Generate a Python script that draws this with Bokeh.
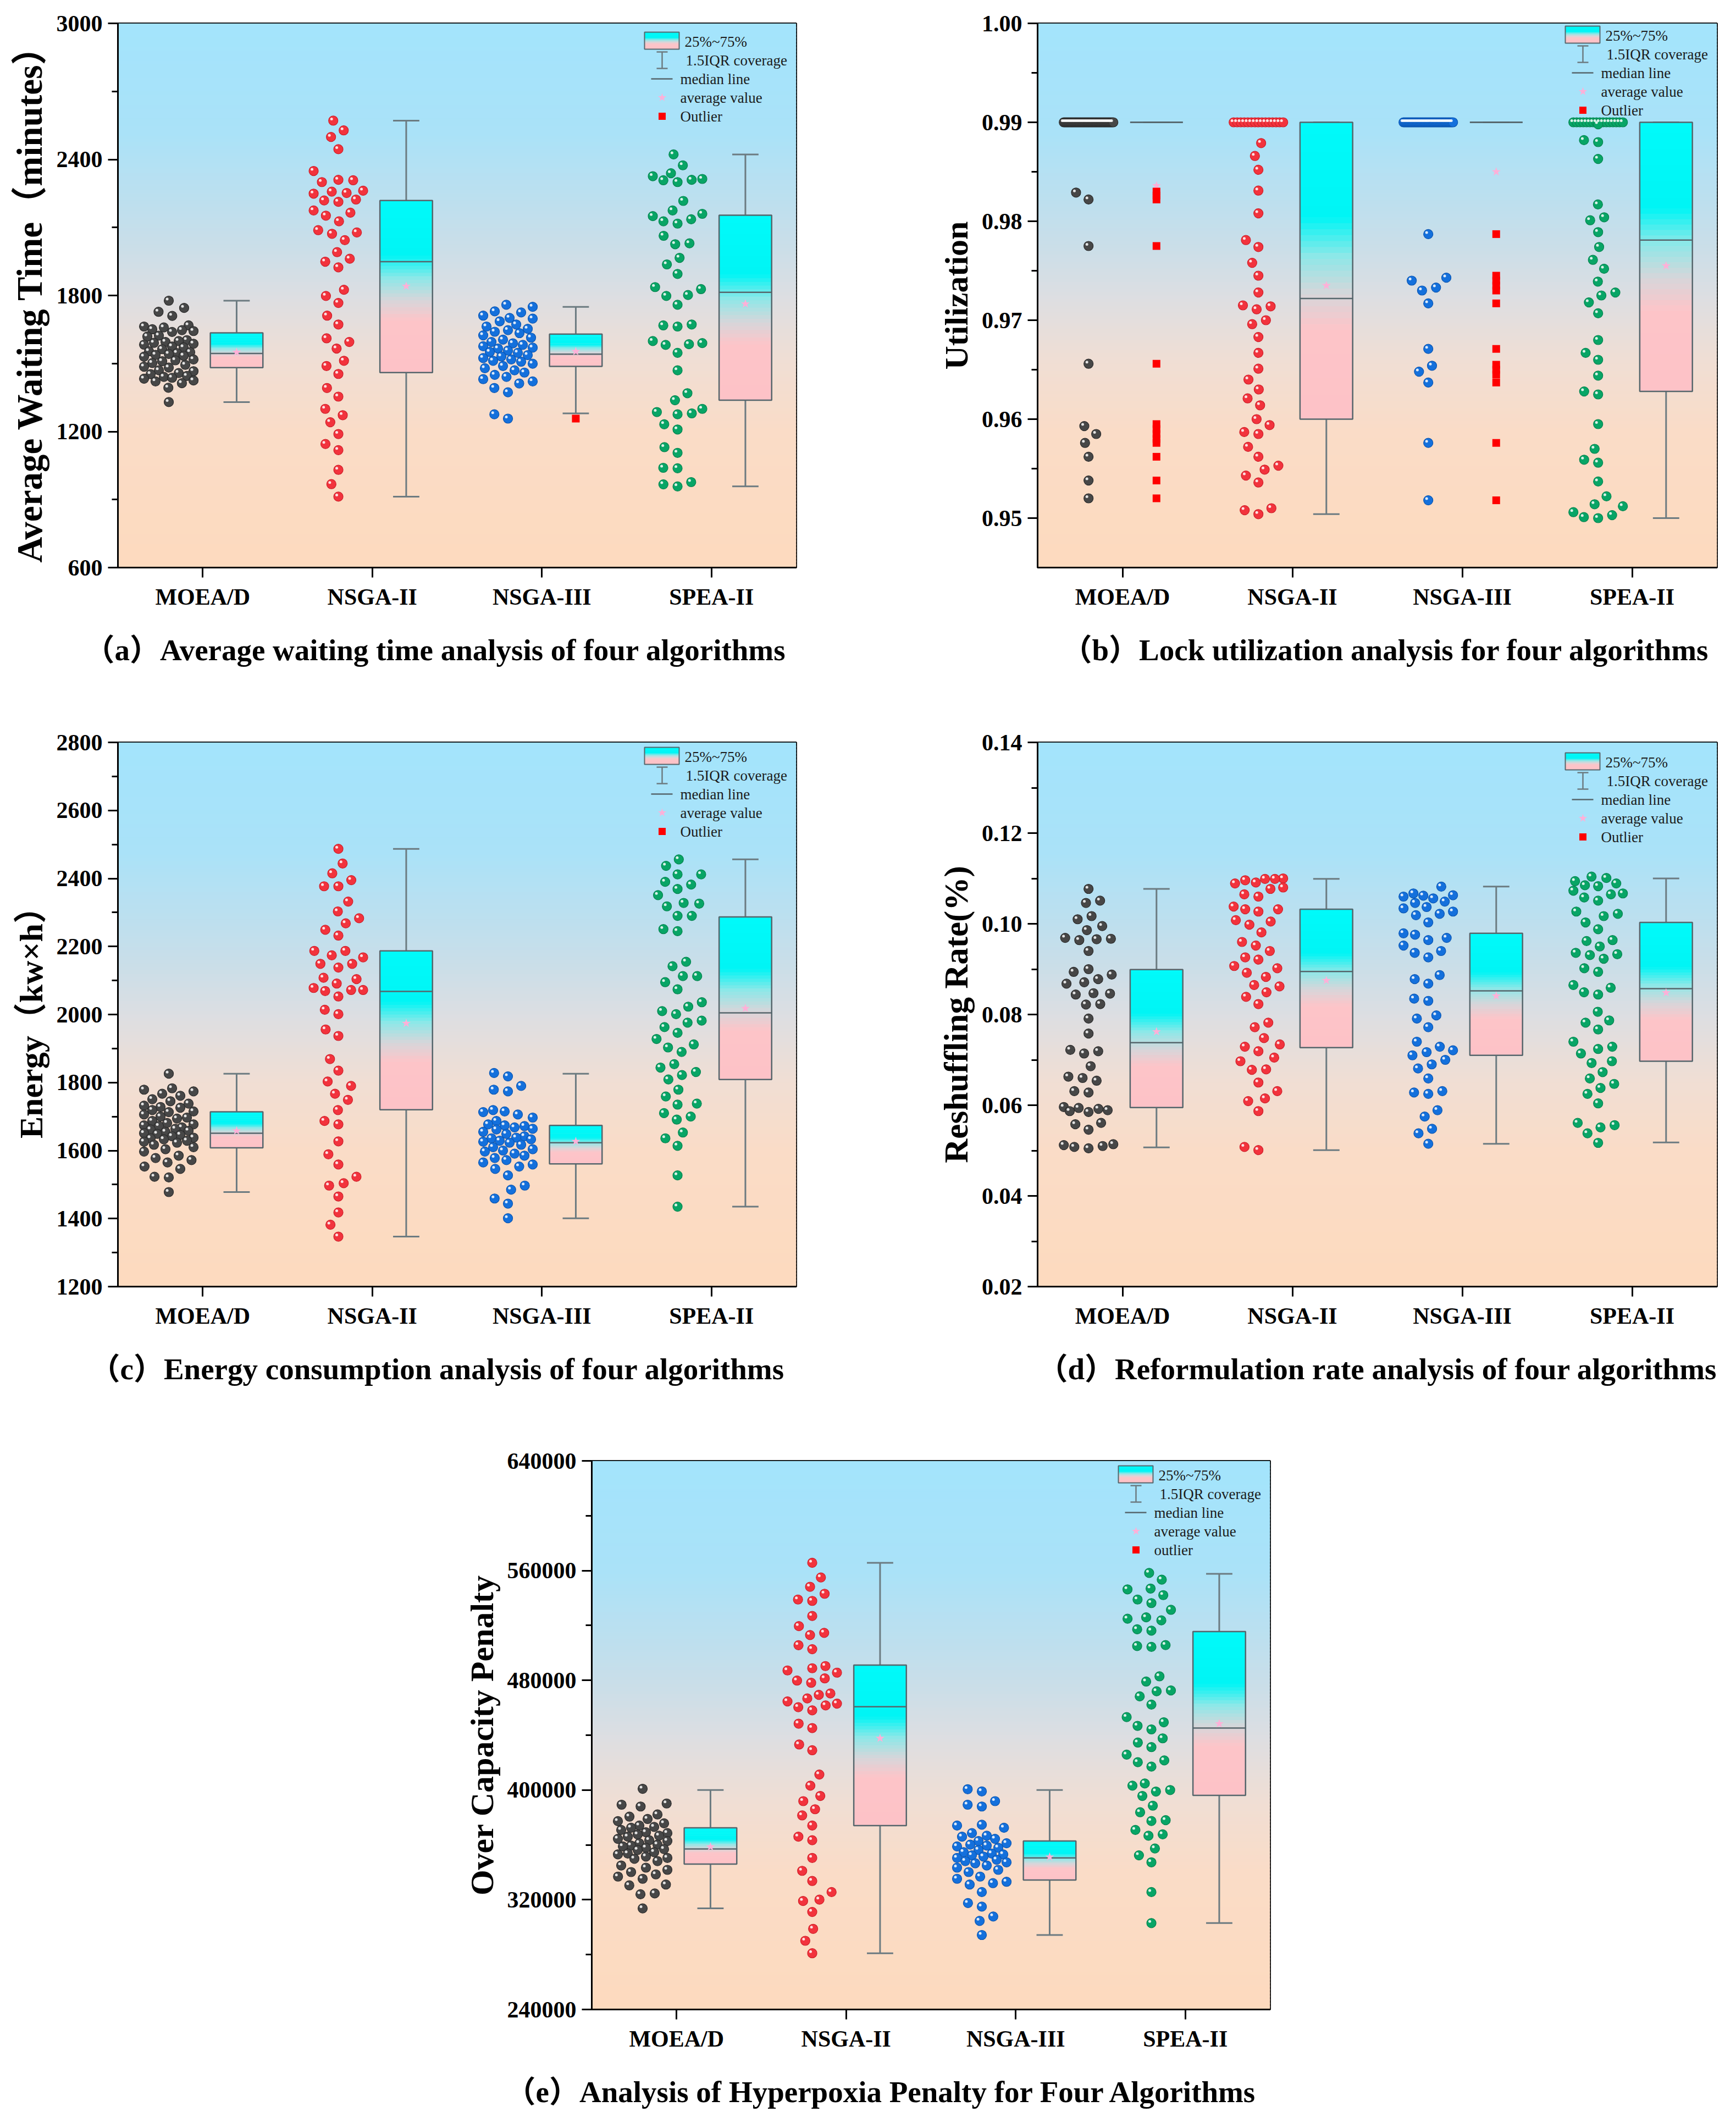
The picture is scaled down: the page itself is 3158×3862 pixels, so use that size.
import math
from bokeh.plotting import figure
from bokeh.models import FixedTicker, Title, Label, PrintfTickFormatter, Range1d, Spacer
from bokeh.layouts import column, row
from bokeh.embed import file_html
from bokeh.resources import INLINE

CATEGORIES = ["MOEA/D", "NSGA-II", "NSGA-III", "SPEA-II"]

# ---------------- panel (a): average waiting time ----------------
A_MOEAD = [1777, 1745, 1728, 1710, 1668, 1663, 1659, 1651, 1647, 1643, 1639, 1623, 1619, 1603, 1599, 1595, 1591,
           1587, 1583, 1575, 1571, 1563, 1554, 1550, 1546, 1542, 1538, 1534, 1530, 1518, 1514, 1510, 1502, 1494,
           1486, 1482, 1470, 1466, 1458, 1453, 1445, 1441, 1437, 1433, 1425, 1421, 1413, 1393, 1330]
A_NSGA2 = [2571, 2528, 2499, 2445, 2349, 2310, 2308, 2300, 2262, 2258, 2252, 2249, 2223, 2219, 2213, 2175, 2165,
           2152, 2127, 2088, 2078, 2072, 2044, 1991, 1962, 1949, 1924, 1825, 1798, 1767, 1711, 1672, 1611, 1595,
           1566, 1512, 1489, 1454, 1392, 1354, 1300, 1272, 1241, 1189, 1145, 1118, 1031, 968, 913]
A_NSGA3 = [1759, 1750, 1730, 1725, 1711, 1701, 1698, 1686, 1672, 1663, 1653, 1647, 1640, 1634, 1624, 1614, 1605,
           1595, 1589, 1582, 1576, 1570, 1566, 1557, 1551, 1547, 1537, 1531, 1524, 1518, 1512, 1508, 1499, 1489,
           1479, 1470, 1460, 1450, 1441, 1431, 1421, 1412, 1392, 1373, 1276, 1257]
A_SPEA2 = [2422, 2374, 2339, 2326, 2314, 2310, 2308, 2300, 2217, 2175, 2160, 2150, 2136, 2127, 2117, 2063, 2030,
           2026, 1966, 1937, 1895, 1837, 1828, 1802, 1798, 1759, 1672, 1668, 1663, 1599, 1590, 1585, 1582, 1547,
           1470, 1369, 1338, 1300, 1286, 1280, 1276, 1232, 1209, 1131, 1106, 1040, 1038, 977, 967, 958]
A_Q1 = [1482, 1460, 1487, 1338]
A_MED = [1544, 1949, 1541, 1814]
A_Q3 = [1635, 2219, 1630, 2154]
A_LO = [1330, 913, 1280, 958]
A_HI = [1777, 2571, 1750, 2422]
A_MEAN = [1550, 1841, 1553, 1763]
A_OUT = [[], [], [1257], []]
A_TICKS = [600, 1200, 1800, 2400, 3000]
A_MINOR = [900, 1500, 2100, 2700]

# ---------------- panel (b): lock utilization ----------------
B_MOEAD = [0.99, 0.99, 0.99, 0.99, 0.99, 0.99, 0.99, 0.99, 0.99, 0.99, 0.99, 0.99, 0.99, 0.99, 0.99, 0.99, 0.99,
           0.99, 0.99, 0.99, 0.99, 0.99, 0.99, 0.99, 0.99, 0.99, 0.99, 0.99, 0.99, 0.99, 0.99, 0.99, 0.99, 0.99,
           0.99, 0.99, 0.99, 0.99, 0.99, 0.99,
           0.9829, 0.9822, 0.9775, 0.9656, 0.9593, 0.9585, 0.9576, 0.9562, 0.9538, 0.9520]
B_NSGA2 = [0.99, 0.99, 0.99, 0.99, 0.99, 0.99, 0.99, 0.99, 0.99, 0.99, 0.99, 0.99, 0.99, 0.99, 0.99,
           0.9879, 0.9866, 0.9852, 0.9831, 0.9808, 0.9781, 0.9774, 0.9758, 0.9745, 0.9728, 0.9715, 0.9714, 0.9711,
           0.9700, 0.9696, 0.9683, 0.9667, 0.9651, 0.9640, 0.9630, 0.9621, 0.9614, 0.9600, 0.9594, 0.9587, 0.9585,
           0.9572, 0.9562, 0.9553, 0.9549, 0.9543, 0.9536, 0.9510, 0.9508, 0.9504]
B_NSGA3 = [0.99, 0.99, 0.99, 0.99, 0.99, 0.99, 0.99, 0.99, 0.99, 0.99, 0.99, 0.99, 0.99, 0.99, 0.99, 0.99, 0.99,
           0.99, 0.99, 0.99, 0.99, 0.99, 0.99, 0.99, 0.99, 0.99, 0.99, 0.99, 0.99, 0.99, 0.99, 0.99, 0.99, 0.99,
           0.99, 0.99, 0.99, 0.99,
           0.9787, 0.9743, 0.9740, 0.9733, 0.9730, 0.9717, 0.9671, 0.9654, 0.9648, 0.9637, 0.9576, 0.9518]
B_SPEA2 = [0.99, 0.99, 0.99, 0.99, 0.99, 0.99, 0.99, 0.99, 0.99, 0.99, 0.99, 0.99, 0.99, 0.99, 0.99, 0.99,
           0.9898, 0.9882, 0.9880, 0.9863, 0.9817, 0.9804, 0.9801, 0.9789, 0.9774, 0.9761, 0.9752, 0.9739, 0.9728,
           0.9725, 0.9718, 0.9707, 0.9680, 0.9667, 0.9660, 0.9644, 0.9628, 0.9625, 0.9595, 0.9570, 0.9559, 0.9556,
           0.9537, 0.9522, 0.9514, 0.9512, 0.9506, 0.9503, 0.9501, 0.9500]
B_Q1 = [0.99, 0.9600, 0.99, 0.9628]
B_MED = [0.99, 0.9722, 0.99, 0.9781]
B_Q3 = [0.99, 0.99, 0.99, 0.99]
B_LO = [0.99, 0.9504, 0.99, 0.9500]
B_HI = [0.99, 0.99, 0.99, 0.99]
B_MEAN = [0.9836, 0.9735, 0.9850, 0.9755]
B_OUT = [[0.9830, 0.9826, 0.9822, 0.9775, 0.9656, 0.9595, 0.9590, 0.9585, 0.9580, 0.9576, 0.9562, 0.9538, 0.9520],
         [],
         [0.9787, 0.9745, 0.9740, 0.9735, 0.9730, 0.9717, 0.9671, 0.9655, 0.9650, 0.9645, 0.9637, 0.9576, 0.9518],
         []]
B_TICKS = [0.95, 0.96, 0.97, 0.98, 0.99, 1.00]
B_MINOR = [0.955, 0.965, 0.975, 0.985, 0.995]

# ---------------- panel (c): energy ----------------
C_MOEAD = [1826, 1783, 1779, 1774, 1767, 1761, 1751, 1745, 1738, 1732, 1728, 1726, 1719, 1715, 1713, 1706, 1700,
           1697, 1694, 1687, 1681, 1677, 1674, 1672, 1668, 1664, 1662, 1658, 1655, 1651, 1649, 1646, 1642, 1638,
           1636, 1633, 1629, 1626, 1623, 1617, 1610, 1604, 1597, 1585, 1578, 1572, 1565, 1553, 1546, 1523, 1521,
           1478]
C_NSGA2 = [2487, 2444, 2415, 2395, 2377, 2377, 2332, 2303, 2283, 2268, 2249, 2232, 2187, 2187, 2174, 2168, 2149,
           2149, 2138, 2108, 2104, 2091, 2078, 2072, 2072, 2069, 2053, 2014, 2001, 1956, 1937, 1869, 1835, 1803,
           1790, 1767, 1749, 1719, 1687, 1677, 1627, 1589, 1559, 1523, 1504, 1497, 1465, 1418, 1382, 1347]
C_NSGA3 = [1828, 1818, 1790, 1779, 1774, 1719, 1715, 1713, 1706, 1697, 1687, 1677, 1674, 1672, 1668, 1664, 1662,
           1655, 1649, 1642, 1638, 1636, 1633, 1629, 1626, 1623, 1617, 1610, 1604, 1600, 1597, 1591, 1585, 1578,
           1572, 1565, 1559, 1553, 1546, 1527, 1497, 1485, 1459, 1444, 1401]
C_SPEA2 = [2456, 2437, 2412, 2412, 2390, 2382, 2369, 2351, 2328, 2326, 2318, 2290, 2290, 2251, 2245, 2155, 2142,
           2113, 2113, 2095, 2074, 2036, 2023, 2010, 2001, 1982, 1976, 1963, 1946, 1928, 1912, 1903, 1890, 1854,
           1844, 1831, 1822, 1809, 1779, 1759, 1738, 1735, 1710, 1700, 1691, 1653, 1636, 1614, 1527, 1435]
C_Q1 = [1608, 1720, 1561, 1809]
C_MED = [1651, 2068, 1623, 2005]
C_Q3 = [1714, 2187, 1674, 2287]
C_LO = [1478, 1347, 1401, 1435]
C_HI = [1826, 2487, 1826, 2456]
C_MEAN = [1658, 1974, 1627, 2018]
C_OUT = [[], [], [], []]
C_TICKS = [1200, 1400, 1600, 1800, 2000, 2200, 2400, 2600, 2800]
C_MINOR = [1300, 1500, 1700, 1900, 2100, 2300, 2500, 2700]

# ---------------- panel (d): reshuffling rate ----------------
D_MOEAD = [0.1077, 0.1051, 0.1046, 0.1017, 0.1010, 0.0995, 0.0986, 0.0969, 0.0967, 0.0966, 0.0964, 0.0940, 0.0900,
           0.0894, 0.0888, 0.0878, 0.0871, 0.0868, 0.0847, 0.0846, 0.0844, 0.0823, 0.0822, 0.0791, 0.0758, 0.0722,
           0.0719, 0.0714, 0.0686, 0.0663, 0.0660, 0.0654, 0.0631, 0.0628, 0.0596, 0.0594, 0.0592, 0.0589, 0.0587,
           0.0585, 0.0561, 0.0558, 0.0546, 0.0514, 0.0512, 0.0510, 0.0508, 0.0505]
D_NSGA2 = [0.1100, 0.1099, 0.1099, 0.1096, 0.1091, 0.1089, 0.1080, 0.1077, 0.1065, 0.1060, 0.1038, 0.1032, 0.1032,
           0.1027, 0.1008, 0.1005, 0.0998, 0.0981, 0.0960, 0.0952, 0.0940, 0.0926, 0.0921, 0.0907, 0.0902, 0.0892,
           0.0883, 0.0865, 0.0862, 0.0849, 0.0839, 0.0823, 0.0782, 0.0772, 0.0748, 0.0734, 0.0729, 0.0719, 0.0705,
           0.0697, 0.0679, 0.0678, 0.0650, 0.0631, 0.0615, 0.0609, 0.0587, 0.0508, 0.0501]
D_NSGA3 = [0.1082, 0.1067, 0.1063, 0.1062, 0.1060, 0.1056, 0.1049, 0.1046, 0.1037, 0.1034, 0.1027, 0.1022, 0.1019,
           0.1003, 0.0979, 0.0976, 0.0969, 0.0964, 0.0952, 0.0940, 0.0936, 0.0926, 0.0887, 0.0878, 0.0868, 0.0835,
           0.0830, 0.0798, 0.0791, 0.0772, 0.0740, 0.0729, 0.0721, 0.0717, 0.0710, 0.0700, 0.0690, 0.0681, 0.0659,
           0.0631, 0.0628, 0.0625, 0.0589, 0.0575, 0.0548, 0.0538, 0.0515]
D_SPEA2 = [0.1104, 0.1101, 0.1094, 0.1089, 0.1085, 0.1083, 0.1073, 0.1067, 0.1065, 0.1058, 0.1051, 0.1027, 0.1022,
           0.1017, 0.1003, 0.0988, 0.0964, 0.0962, 0.0950, 0.0936, 0.0933, 0.0931, 0.0923, 0.0902, 0.0894, 0.0865,
           0.0859, 0.0849, 0.0844, 0.0806, 0.0787, 0.0782, 0.0767, 0.0740, 0.0729, 0.0724, 0.0714, 0.0697, 0.0693,
           0.0673, 0.0659, 0.0647, 0.0638, 0.0625, 0.0604, 0.0561, 0.0556, 0.0551, 0.0538, 0.0517]
D_Q1 = [0.0595, 0.0727, 0.0710, 0.0697]
D_MED = [0.0738, 0.0895, 0.0852, 0.0857]
D_Q3 = [0.0899, 0.1032, 0.0979, 0.1003]
D_LO = [0.0507, 0.0501, 0.0515, 0.0518]
D_HI = [0.1077, 0.1099, 0.1082, 0.1100]
D_MEAN = [0.0762, 0.0875, 0.0841, 0.0848]
D_OUT = [[], [], [], []]
D_TICKS = [0.02, 0.04, 0.06, 0.08, 0.10, 0.12, 0.14]
D_MINOR = [0.03, 0.05, 0.07, 0.09, 0.11, 0.13]

# ---------------- panel (e): over capacity penalty ----------------
E_MOEAD = [400900, 390200, 389300, 388000, 382200, 380600, 378900, 377300, 375700, 374100, 373100, 372500, 370900,
           369200, 368600, 367600, 366700, 366000, 364400, 363400, 362800, 361200, 360200, 359500, 358900, 357900,
           356900, 356300, 354700, 353700, 353100, 351500, 350500, 349900, 348200, 345000, 343400, 341800, 340200,
           338500, 336900, 335300, 331100, 330500, 324600, 324000, 313700]
E_NSGA2 = [565700, 555000, 548200, 543100, 538900, 537900, 526900, 519500, 514600, 513000, 505600, 502700, 490400,
           488800, 487200, 485600, 481400, 479800, 478200, 470400, 469400, 466800, 464600, 463000, 461700, 460400,
           458100, 448400, 445200, 433200, 429000, 411300, 403200, 395700, 391900, 386000, 381500, 374100, 366000,
           363400, 350500, 341100, 333700, 325600, 320100, 319100, 311100, 298800, 290100, 281000]
E_NSGA3 = [400600, 399000, 391900, 389300, 388000, 374700, 374100, 372500, 368600, 366700, 366000, 364400, 362800,
           361200, 360200, 359500, 358900, 357900, 356300, 354700, 353700, 353100, 352400, 351500, 350500, 349200,
           348200, 347300, 346600, 345000, 343400, 341800, 340200, 336900, 335300, 333100, 332100, 331100, 325600,
           317600, 315000, 307800, 304600, 294300]
E_SPEA2 = [558300, 553400, 546900, 546300, 542100, 538900, 536300, 531400, 525900, 524900, 523700, 517200, 516200,
           505700, 505000, 504400, 482900, 479100, 472600, 472000, 468300, 462300, 453200, 449400, 446800, 444200,
           437700, 434600, 431300, 425800, 421600, 420300, 417100, 404800, 403200, 400000, 398900, 395700, 388600,
           383800, 378000, 377400, 370900, 367700, 366700, 357400, 352400, 347300, 325600, 303000]
E_Q1 = [346000, 374100, 334400, 396100]
E_MED = [357000, 460700, 350500, 445200]
E_Q3 = [372500, 491100, 362800, 515600]
E_LO = [313700, 281000, 294300, 303000]
E_HI = [400000, 565700, 400000, 557600]
E_MEAN = [358600, 437700, 351200, 448400]
E_OUT = [[], [], [], []]
E_TICKS = [240000, 320000, 400000, 480000, 560000, 640000]
E_MINOR = [280000, 360000, 440000, 520000, 600000]

LEGEND_TEXT = ["25%~75%", "1.5IQR coverage", "median line", "average value"]

PANELS = [
    dict(ylabel="Average Waiting Time（minutes）", caption="（a）Average waiting time analysis of four algorithms",
         ymin=600, ymax=3000, ticks=A_TICKS, minor=A_MINOR, fmt="%d",
         data=[A_MOEAD, A_NSGA2, A_NSGA3, A_SPEA2], q1=A_Q1, med=A_MED, q3=A_Q3, lo=A_LO, hi=A_HI,
         mean=A_MEAN, out=A_OUT, outlabel="Outlier"),
    dict(ylabel="Utilization", caption="（b）Lock utilization analysis for four algorithms",
         ymin=0.945, ymax=1.0, ticks=B_TICKS, minor=B_MINOR, fmt="%.2f",
         data=[B_MOEAD, B_NSGA2, B_NSGA3, B_SPEA2], q1=B_Q1, med=B_MED, q3=B_Q3, lo=B_LO, hi=B_HI,
         mean=B_MEAN, out=B_OUT, outlabel="Outlier"),
    dict(ylabel="Energy（kw×h）", caption="（c）Energy consumption analysis of four algorithms",
         ymin=1200, ymax=2800, ticks=C_TICKS, minor=C_MINOR, fmt="%d",
         data=[C_MOEAD, C_NSGA2, C_NSGA3, C_SPEA2], q1=C_Q1, med=C_MED, q3=C_Q3, lo=C_LO, hi=C_HI,
         mean=C_MEAN, out=C_OUT, outlabel="Outlier"),
    dict(ylabel="Reshuffling Rate(%)", caption="（d）Reformulation rate analysis of four algorithms",
         ymin=0.02, ymax=0.14, ticks=D_TICKS, minor=D_MINOR, fmt="%.2f",
         data=[D_MOEAD, D_NSGA2, D_NSGA3, D_SPEA2], q1=D_Q1, med=D_MED, q3=D_Q3, lo=D_LO, hi=D_HI,
         mean=D_MEAN, out=D_OUT, outlabel="Outlier"),
    dict(ylabel="Over Capacity Penalty", caption="（e）Analysis of Hyperpoxia Penalty for Four Algorithms",
         ymin=240000, ymax=640000, ticks=E_TICKS, minor=E_MINOR, fmt="%d",
         data=[E_MOEAD, E_NSGA2, E_NSGA3, E_SPEA2], q1=E_Q1, med=E_MED, q3=E_Q3, lo=E_LO, hi=E_HI,
         mean=E_MEAN, out=E_OUT, outlabel="outlier"),
]

# layout geometry (pixels); cap = caption left edge relative to frame left
GEOM = [
    dict(fw=1234, fh=990, bl=214, br=131, bt=42, bb=276, leg=33, cap=-61, yl=65),
    dict(fw=1236, fh=990, bl=308, br=35, bt=42, bb=276, leg=22, cap=44, yl=60),
    dict(fw=1234, fh=990, bl=214, br=131, bt=42, bb=275, leg=26, cap=-51, yl=60),
    dict(fw=1236, fh=990, bl=308, br=35, bt=42, bb=275, leg=36, cap=0, yl=61),
    dict(fw=1234, fh=998, bl=300, br=40, bt=42, bb=207, leg=26, cap=-157, yl=60),
]

FONT = "Liberation Serif"
FONT_CJK = "'Liberation Serif', 'Noto Sans CJK SC'"
BG_STOPS = [(0.0, (163, 228, 252)), (0.2, (170, 226, 248)), (0.4, (200, 222, 233)), (0.5, (220, 222, 226)),
            (0.62, (240, 222, 212)), (0.75, (250, 220, 199)), (1.0, (253, 218, 190))]
BOX_STOPS = [(0.0, (0, 250, 250)), (0.32, (0, 245, 245)), (0.45, (140, 232, 232)), (0.58, (215, 214, 218)),
             (0.7, (253, 196, 200)), (1.0, (253, 194, 199))]
DOT_FILL = ["#474747", "#f2333d", "#1470dc", "#08a566"]
DOT_LINE = ["#2b2b2b", "#cf1f29", "#0b56b2", "#06844f"]
BOX_LINE = "#56666c"
WHISK = "#6c7b81"
STAR = "#ffb0d8"


def stop_color(stops, t):
    t = min(max(t, 0.0), 1.0)
    for (t0, c0), (t1, c1) in zip(stops, stops[1:]):
        if t <= t1:
            f = (t - t0) / (t1 - t0) if t1 > t0 else 0.0
            return "#%02x%02x%02x" % tuple(int(round(a + (b - a) * f)) for a, b in zip(c0, c1))
    return "#%02x%02x%02x" % stops[-1][1]


def gradient_strips(left, right, bottom, top, stops, n):
    L, R, B, T, C = [], [], [], [], []
    h = (top - bottom) / n
    for k in range(n):
        t_hi = top - k * h
        t_lo = top - (k + 1) * h
        L.append(left)
        R.append(right)
        T.append(t_hi)
        B.append(t_lo - (0.4 * h if k < n - 1 else 0))
        C.append(stop_color(stops, (k + 0.5) / n))
    return L, R, B, T, C


def swarm(vals, pxx, pxy, d=26.0, maxw=45.0):
    n = len(vals)
    counts = {}
    for v in vals:
        counts[v] = counts.get(v, 0) + 1
    order = sorted(range(n), key=lambda i: vals[i])
    placed = []
    offs = [0.0] * n
    gidx = {}
    for i in order:
        v = vals[i]
        y = v * pxy
        if counts[v] >= 5:
            k = gidx.get(v, 0)
            gidx[v] = k + 1
            x = -maxw + 2 * maxw * k / (counts[v] - 1)
        else:
            near = [(px, py) for px, py in placed if abs(py - y) < d]
            cands = [0.0]
            for px, py in near:
                w = math.sqrt(max(d * d - (py - y) ** 2, 0.0))
                cands += [px - w, px + w]
            ok = [c for c in cands if abs(c) <= maxw and
                  all((c - px) ** 2 + (y - py) ** 2 >= d * d - 1e-6 for px, py in near)]
            if ok:
                x = min(ok, key=lambda c: (abs(c), c))
            else:
                best = None
                for k in range(31):
                    c = -maxw + 2 * maxw * k / 30
                    md = min(math.hypot(c - px, y - py) for px, py in near)
                    if best is None or md > best[0] + 1e-9:
                        best = (md, c)
                x = best[1]
        placed.append((x, y))
        offs[i] = x
    return [o / pxx for o in offs]


def make_panel(cfg, g):
    ymin, ymax = cfg["ymin"], cfg["ymax"]
    fw, fh = g["fw"], g["fh"]
    pxx = fw / 4.0
    pxy = fh / (ymax - ymin)
    p = figure(frame_width=fw, frame_height=fh, x_range=Range1d(0.5, 4.5), y_range=Range1d(ymin, ymax),
               output_backend="svg", toolbar_location=None, title=None,
               min_border_left=g["bl"], min_border_right=g["br"], min_border_top=g["bt"],
               min_border_bottom=g["bb"])
    p.background_fill_color = "white"
    p.border_fill_color = "white"
    p.grid.visible = False
    p.outline_line_color = "black"
    p.outline_line_width = 3

    # background gradient
    L, R, B, T, C = gradient_strips(0.5, 4.5, ymin, ymax, BG_STOPS, 160)
    p.quad(left=L, right=R, bottom=B, top=T, fill_color=C, line_color=None)

    # swarm points
    hx, hy = -3.0 / pxx, 3.0 / pxy
    for i, vals in enumerate(cfg["data"]):
        offs = swarm(vals, pxx, pxy)
        xs = [i + 1 - 0.2 + o for o in offs]
        p.scatter(x=xs, y=vals, marker="circle", size=17, fill_color=DOT_FILL[i], line_color=DOT_LINE[i],
                  line_width=1.2)
        p.scatter(x=[x + hx for x in xs], y=[v + hy for v in vals], marker="circle", size=5,
                  fill_color="white", fill_alpha=0.85, line_color=None)

    bw = 0.31
    cw = 0.155
    centers = [k + 1 + 0.2 for k in range(4)]
    # whiskers
    p.segment(x0=centers, x1=centers, y0=cfg["q3"], y1=cfg["hi"], line_color=WHISK, line_width=3)
    p.segment(x0=centers, x1=centers, y0=cfg["lo"], y1=cfg["q1"], line_color=WHISK, line_width=3)
    p.segment(x0=[c - cw / 2 for c in centers], x1=[c + cw / 2 for c in centers], y0=cfg["hi"], y1=cfg["hi"],
              line_color=WHISK, line_width=3)
    p.segment(x0=[c - cw / 2 for c in centers], x1=[c + cw / 2 for c in centers], y0=cfg["lo"], y1=cfg["lo"],
              line_color=WHISK, line_width=3)
    # boxes with gradient
    for k, c in enumerate(centers):
        q1, q3 = cfg["q1"][k], cfg["q3"][k]
        if q3 > q1:
            L, R, B, T, C = gradient_strips(c - bw / 2, c + bw / 2, q1, q3, BOX_STOPS, 50)
            p.quad(left=L, right=R, bottom=B, top=T, fill_color=C, line_color=None)
    p.quad(left=[c - bw / 2 for c in centers], right=[c + bw / 2 for c in centers], bottom=cfg["q1"],
           top=cfg["q3"], fill_color=None, line_color=BOX_LINE, line_width=2.5)
    p.segment(x0=[c - bw / 2 for c in centers], x1=[c + bw / 2 for c in centers], y0=cfg["med"], y1=cfg["med"],
              line_color=BOX_LINE, line_width=2.5)
    p.scatter(x=centers, y=cfg["mean"], marker="star", size=17, fill_color=STAR, line_color=None)
    ox, oy = [], []
    for k, c in enumerate(centers):
        for v in cfg["out"][k]:
            ox.append(c)
            oy.append(v)
    if ox:
        p.scatter(x=ox, y=oy, marker="square", size=14, fill_color="#ff0000", line_color=None)

    # manual legend (positions in pixels from frame's top-right corner)
    X = lambda off: 4.5 + off / pxx
    Y = lambda off: ymax - off / pxy
    rows = [g["leg"] + 34 * k for k in range(5)]
    L, R, B, T, C = gradient_strips(X(-276), X(-213), Y(rows[0] + 14), Y(rows[0] - 17), BOX_STOPS, 14)
    p.quad(left=L, right=R, bottom=B, top=T, fill_color=C, line_color=None)
    p.quad(left=[X(-276)], right=[X(-213)], bottom=[Y(rows[0] + 14)], top=[Y(rows[0] - 17)],
           fill_color=None, line_color=BOX_LINE, line_width=2)
    ib = X(-244)
    p.segment(x0=[ib, ib - 10 / pxx, ib - 10 / pxx], x1=[ib, ib + 10 / pxx, ib + 10 / pxx],
              y0=[Y(rows[1] - 15), Y(rows[1] - 15), Y(rows[1] + 15)],
              y1=[Y(rows[1] + 15), Y(rows[1] - 15), Y(rows[1] + 15)], line_color=WHISK, line_width=2.5)
    p.segment(x0=[X(-264)], x1=[X(-225)], y0=[Y(rows[2])], y1=[Y(rows[2])], line_color=BOX_LINE, line_width=2.5)
    p.scatter(x=[ib], y=[Y(rows[3])], marker="star", size=16, fill_color=STAR, line_color=None)
    p.scatter(x=[ib], y=[Y(rows[4])], marker="square", size=13, fill_color="#ff0000", line_color=None)
    texts = LEGEND_TEXT + [cfg["outlabel"]]
    txo = [-203, -201, -211, -211, -211]
    for k, t in enumerate(texts):
        p.add_layout(Label(x=X(txo[k]), y=Y(rows[k]), text=t, text_baseline="middle", text_align="left",
                           text_font=FONT, text_font_size="27px", text_color="#1c1c1c"))

    # axes
    for ax in (p.xaxis[0], p.yaxis[0]):
        ax.axis_line_width = 3
        ax.axis_line_color = "black"
        ax.major_tick_line_width = 3
        ax.minor_tick_line_width = 3
        ax.major_tick_in = 0
        ax.minor_tick_in = 0
        ax.major_label_text_font = FONT
        ax.major_label_text_font_style = "bold"
        ax.major_label_text_font_size = "42px"
        ax.major_label_text_color = "black"
    p.xaxis.ticker = FixedTicker(ticks=[1, 2, 3, 4], minor_ticks=[])
    p.xaxis.major_label_overrides = {1: CATEGORIES[0], 2: CATEGORIES[1], 3: CATEGORIES[2], 4: CATEGORIES[3]}
    p.xaxis.major_tick_out = 18
    p.xaxis.major_label_standoff = 12
    p.yaxis.ticker = FixedTicker(ticks=cfg["ticks"], minor_ticks=cfg["minor"])
    p.yaxis.formatter = PrintfTickFormatter(format=cfg["fmt"])
    p.yaxis.major_tick_out = 18
    p.yaxis.minor_tick_out = 11
    p.yaxis.major_label_standoff = 10
    p.yaxis.axis_label = cfg["ylabel"]
    p.yaxis.axis_label_text_font = FONT_CJK
    p.yaxis.axis_label_text_font_style = "bold"
    p.yaxis.axis_label_text_font_size = "%dpx" % g["yl"]
    p.yaxis.axis_label_text_color = "black"
    p.yaxis.axis_label_standoff = 10

    p.add_layout(Title(text=cfg["caption"], align="left", offset=g["cap"], text_font=FONT_CJK,
                       text_font_style="bold", text_font_size="55px", text_color="black", standoff=76), "below")
    return p


figs = [make_panel(c, g) for c, g in zip(PANELS, GEOM)]
layout = column(
    row(figs[0], figs[1]),
    row(figs[2], figs[3]),
    row(Spacer(width=776, height=10), figs[4]),
)

open("out.html", "w").write(file_html(layout, INLINE))
